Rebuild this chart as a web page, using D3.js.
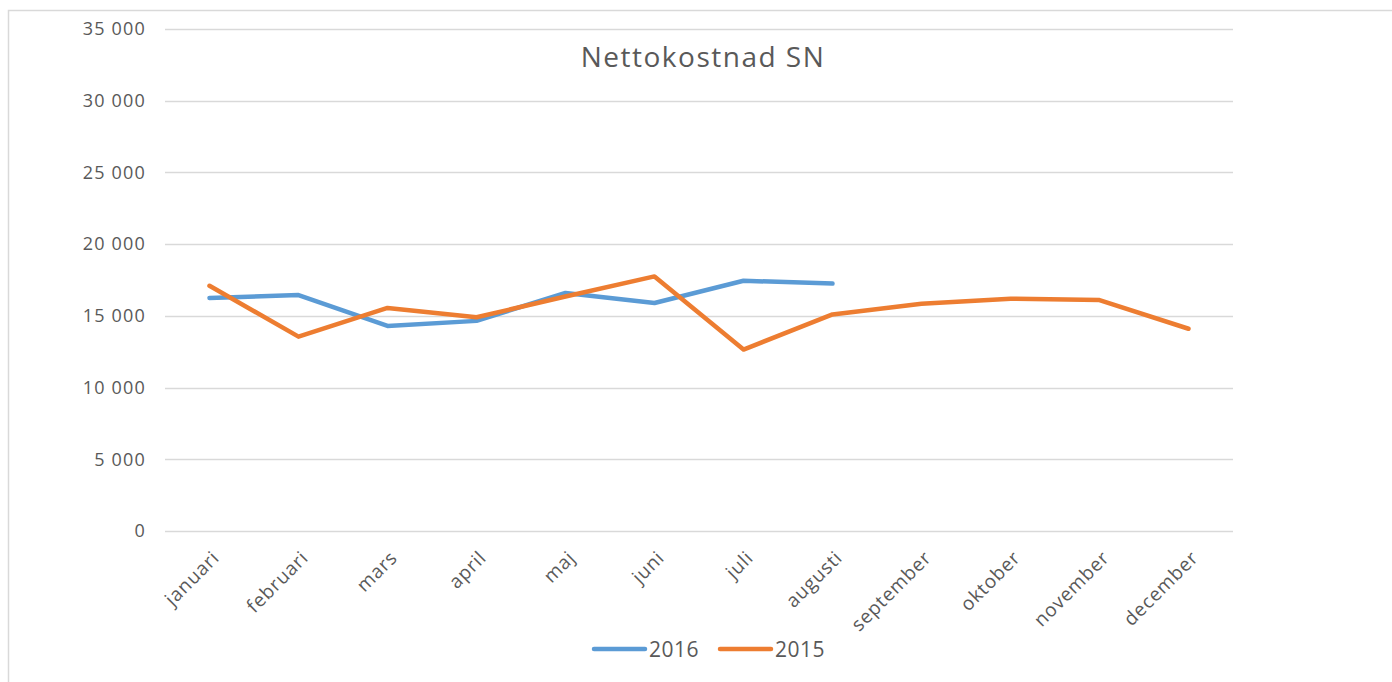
<!DOCTYPE html>
<html>
<head>
<meta charset="utf-8">
<script src="https://cdnjs.cloudflare.com/ajax/libs/d3/7.8.5/d3.min.js"></script>
<style>
  body { margin: 0; background: #fff; }
  text { font-family: "Open Sans", "Liberation Sans", sans-serif; fill: #595959; }
</style>
</head>
<body>
<div id="chart"></div>
<script>
// Data
var months = ["januari", "februari", "mars", "april", "maj", "juni", "juli",
    "augusti", "september", "oktober", "november", "december"];
var values2016 = [16250, 16450, 14300, 14650, 16600, 15900, 17450, 17250];
var values2015 = [17100, 13550, 15550, 14900, 16350, 17750, 12650, 15100,
    15850, 16200, 16100, 14100];
var yTicks = [0, 5000, 10000, 15000, 20000, 25000, 30000, 35000];

var svgWidth = 1392;
var svgHeight = 682;

var chartMargin = { top: 29, right: 159, bottom: 151, left: 165 };
var chartWidth = svgWidth - chartMargin.left - chartMargin.right;
var chartHeight = svgHeight - chartMargin.top - chartMargin.bottom;

var svg = d3.select("#chart")
    .append("svg")
    .attr("width", svgWidth)
    .attr("height", svgHeight);

// outer chart border
svg.append("rect")
    .attr("x", 8.5)
    .attr("y", 10.5)
    .attr("width", svgWidth)
    .attr("height", svgHeight)
    .attr("fill", "none")
    .attr("stroke", "#d9d9d9")
    .attr("stroke-width", 1.5);

var chartGroup = svg.append("g")
    .attr("transform", `translate(${chartMargin.left}, ${chartMargin.top})`);

var xScale = d3.scaleBand()
    .domain(months)
    .range([0, chartWidth]);

var yScale = d3.scaleLinear()
    .domain([0, 35000])
    .range([chartHeight, 0]);

// gridlines
chartGroup.selectAll(".grid")
    .data(yTicks)
    .enter()
    .append("line")
    .attr("x1", 0)
    .attr("x2", chartWidth)
    .attr("y1", d => Math.round(yScale(d)) + 0.5)
    .attr("y2", d => Math.round(yScale(d)) + 0.5)
    .attr("stroke", "#d9d9d9")
    .attr("stroke-width", 1.3);

// y axis labels
var fmt = d => d3.format(",")(d).replace(/,/g, " ");
var leftAxis = d3.axisLeft(yScale)
    .tickValues(yTicks)
    .tickSize(0)
    .tickPadding(19)
    .tickFormat(fmt);
var yAxis = chartGroup.append("g").call(leftAxis);
yAxis.select(".domain").remove();
yAxis.selectAll("text")
    .style("font-size", "18px")
    .style("letter-spacing", "1.2px")
    .attr("fill", "#595959");

// x axis labels
var bottomAxis = d3.axisBottom(xScale).tickSize(0).tickPadding(0);
var xAxis = chartGroup.append("g")
    .attr("transform", `translate(0, ${chartHeight})`)
    .call(bottomAxis);
xAxis.select(".domain").remove();
xAxis.selectAll("text")
    .style("font-size", "19px")
    .style("letter-spacing", "0.8px")
    .attr("fill", "#595959")
    .attr("text-anchor", "end")
    .attr("dy", null)
    .attr("y", 0)
    .attr("transform", "translate(11, 28) rotate(-45)");

var cx = d => xScale(d) + xScale.bandwidth() / 2;

var line = d3.line()
    .x((d, i) => cx(months[i]))
    .y(d => yScale(d));

chartGroup.append("path")
    .datum(values2016)
    .attr("d", line)
    .attr("fill", "none")
    .attr("stroke", "#5B9BD5")
    .attr("stroke-width", 4.5)
    .attr("stroke-linecap", "round")
    .attr("stroke-linejoin", "round");

chartGroup.append("path")
    .datum(values2015)
    .attr("d", line)
    .attr("fill", "none")
    .attr("stroke", "#ED7D31")
    .attr("stroke-width", 4.5)
    .attr("stroke-linecap", "round")
    .attr("stroke-linejoin", "round");

// title
svg.append("text")
    .attr("x", 703)
    .attr("y", 67)
    .attr("text-anchor", "middle")
    .style("font-size", "28px")
    .style("letter-spacing", "1.5px")
    .text("Nettokostnad SN");

// legend
var legendData = [
    { name: "2016", color: "#5B9BD5", x: 594 },
    { name: "2015", color: "#ED7D31", x: 720 }
];
var legend = svg.selectAll(".legend")
    .data(legendData)
    .enter()
    .append("g")
    .attr("transform", d => `translate(${d.x}, 649)`);
legend.append("line")
    .attr("x1", 0)
    .attr("x2", 51)
    .attr("stroke", d => d.color)
    .attr("stroke-width", 4.5)
    .attr("stroke-linecap", "round");
legend.append("text")
    .attr("x", 55)
    .attr("y", 8)
    .style("font-size", "21px")
    .style("letter-spacing", "0.5px")
    .text(d => d.name);
</script>
</body>
</html>
